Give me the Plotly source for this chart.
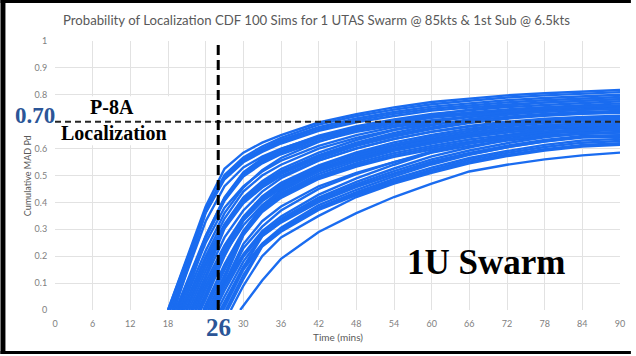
import plotly.graph_objects as go

# ---------------------------------------------------------------
# Data: cumulative MAD probability of detection for each simulation
# ---------------------------------------------------------------
sample_mins = [24, 27, 30, 33, 36, 42, 48, 54, 60, 66, 72, 78, 84, 90]

# time (mins) at which each simulation's CDF leaves zero
start_mins = [
    18.0, 18.0, 18.3, 18.6, 18.8, 19.0,
    19.2, 19.5, 19.6, 19.8, 20.0, 20.2, 20.3,
    20.5, 20.8, 21.0, 21.3, 21.6, 21.8,
    22.0, 22.3, 22.5, 22.8, 23.0, 23.2,
    23.6, 23.8, 24.0, 24.3, 24.6, 24.8,
    25.0, 25.1, 25.3, 25.5, 25.9, 26.3,
    26.5, 26.8, 27.2, 27.5, 28.0,
    29.5,
]

# cumulative Pd at each sample time (None = before the curve starts)
sim_pd = [
    [0.385, 0.525, 0.585, 0.622, 0.650, 0.697, 0.728, 0.753, 0.773, 0.786, 0.798, 0.806, 0.812, 0.818],
    [0.373, 0.502, 0.567, 0.608, 0.640, 0.689, 0.721, 0.745, 0.765, 0.778, 0.790, 0.798, 0.804, 0.810],
    [0.368, 0.496, 0.560, 0.600, 0.632, 0.680, 0.712, 0.736, 0.756, 0.768, 0.780, 0.788, 0.794, 0.800],
    [0.364, 0.491, 0.554, 0.594, 0.626, 0.673, 0.705, 0.729, 0.748, 0.760, 0.772, 0.780, 0.786, 0.792],
    [0.330, 0.460, 0.530, 0.570, 0.600, 0.645, 0.675, 0.700, 0.718, 0.730, 0.740, 0.748, 0.754, 0.758],
    [0.361, 0.486, 0.549, 0.588, 0.619, 0.666, 0.698, 0.721, 0.741, 0.753, 0.764, 0.772, 0.779, 0.784],
    [0.275, 0.419, 0.512, 0.563, 0.598, 0.648, 0.683, 0.708, 0.729, 0.742, 0.754, 0.762, 0.769, 0.776],
    [0.273, 0.415, 0.507, 0.557, 0.591, 0.641, 0.676, 0.700, 0.721, 0.734, 0.746, 0.754, 0.761, 0.768],
    [0.250, 0.380, 0.460, 0.515, 0.555, 0.610, 0.650, 0.680, 0.700, 0.717, 0.730, 0.740, 0.747, 0.752],
    [0.270, 0.410, 0.502, 0.551, 0.585, 0.635, 0.669, 0.693, 0.714, 0.727, 0.738, 0.746, 0.753, 0.760],
    [0.220, 0.360, 0.455, 0.520, 0.565, 0.625, 0.668, 0.700, 0.725, 0.745, 0.760, 0.771, 0.778, 0.784],
    [0.267, 0.406, 0.496, 0.545, 0.579, 0.628, 0.662, 0.686, 0.706, 0.719, 0.730, 0.738, 0.745, 0.752],
    [0.200, 0.340, 0.440, 0.500, 0.540, 0.600, 0.640, 0.670, 0.690, 0.705, 0.717, 0.726, 0.732, 0.736],
    [0.190, 0.319, 0.418, 0.479, 0.524, 0.585, 0.632, 0.669, 0.698, 0.720, 0.737, 0.749, 0.756, 0.760],
    [0.175, 0.314, 0.411, 0.471, 0.516, 0.576, 0.622, 0.658, 0.687, 0.709, 0.726, 0.737, 0.744, 0.748],
    [0.163, 0.311, 0.407, 0.466, 0.511, 0.570, 0.616, 0.651, 0.679, 0.702, 0.718, 0.729, 0.736, 0.740],
    [0.145, 0.308, 0.403, 0.462, 0.506, 0.564, 0.610, 0.645, 0.673, 0.695, 0.711, 0.722, 0.729, 0.733],
    [0.127, 0.303, 0.397, 0.455, 0.498, 0.556, 0.601, 0.635, 0.663, 0.684, 0.700, 0.711, 0.718, 0.722],
    [0.120, 0.270, 0.370, 0.440, 0.490, 0.555, 0.600, 0.636, 0.662, 0.682, 0.697, 0.707, 0.713, 0.717],
    [0.105, 0.240, 0.347, 0.422, 0.473, 0.538, 0.586, 0.623, 0.651, 0.674, 0.691, 0.703, 0.710, 0.716],
    [0.090, 0.227, 0.343, 0.418, 0.467, 0.532, 0.580, 0.616, 0.644, 0.666, 0.683, 0.695, 0.702, 0.708],
    [0.077, 0.224, 0.340, 0.413, 0.462, 0.526, 0.573, 0.609, 0.636, 0.659, 0.676, 0.687, 0.694, 0.700],
    [0.060, 0.221, 0.336, 0.408, 0.457, 0.520, 0.567, 0.602, 0.629, 0.651, 0.668, 0.680, 0.686, 0.692],
    [0.050, 0.210, 0.315, 0.390, 0.445, 0.520, 0.572, 0.612, 0.643, 0.667, 0.686, 0.700, 0.708, 0.713],
    [0.040, 0.200, 0.332, 0.404, 0.452, 0.515, 0.561, 0.596, 0.623, 0.645, 0.661, 0.673, 0.680, 0.685],
    [0.020, 0.170, 0.294, 0.385, 0.441, 0.515, 0.564, 0.602, 0.630, 0.655, 0.672, 0.686, 0.693, 0.700],
    [0.010, 0.160, 0.289, 0.378, 0.433, 0.506, 0.554, 0.592, 0.619, 0.643, 0.660, 0.674, 0.681, 0.688],
    [None, 0.149, 0.285, 0.373, 0.427, 0.498, 0.546, 0.583, 0.610, 0.634, 0.651, 0.664, 0.671, 0.678],
    [None, 0.130, 0.281, 0.369, 0.422, 0.492, 0.539, 0.576, 0.603, 0.626, 0.643, 0.657, 0.663, 0.670],
    [None, 0.115, 0.278, 0.364, 0.417, 0.487, 0.533, 0.569, 0.596, 0.619, 0.636, 0.649, 0.655, 0.662],
    [None, 0.100, 0.245, 0.330, 0.385, 0.460, 0.510, 0.550, 0.585, 0.610, 0.630, 0.645, 0.655, 0.660],
    [None, 0.100, 0.207, 0.293, 0.348, 0.429, 0.489, 0.540, 0.586, 0.620, 0.649, 0.671, 0.687, 0.690],
    [None, 0.090, 0.230, 0.310, 0.370, 0.450, 0.505, 0.550, 0.590, 0.620, 0.645, 0.662, 0.674, 0.680],
    [None, 0.090, 0.202, 0.286, 0.339, 0.418, 0.476, 0.526, 0.571, 0.604, 0.632, 0.653, 0.669, 0.672],
    [None, 0.073, 0.198, 0.281, 0.333, 0.411, 0.468, 0.516, 0.560, 0.593, 0.620, 0.642, 0.657, 0.660],
    [None, 0.050, 0.180, 0.276, 0.328, 0.404, 0.461, 0.508, 0.552, 0.584, 0.611, 0.632, 0.647, 0.650],
    [None, 0.030, 0.160, 0.274, 0.325, 0.401, 0.457, 0.504, 0.547, 0.579, 0.605, 0.626, 0.641, 0.644],
    [None, 0.020, 0.160, 0.247, 0.306, 0.390, 0.447, 0.497, 0.541, 0.577, 0.605, 0.627, 0.644, 0.650],
    [None, None, 0.150, 0.242, 0.299, 0.382, 0.438, 0.487, 0.529, 0.565, 0.591, 0.614, 0.630, 0.636],
    [None, None, 0.130, 0.239, 0.295, 0.377, 0.432, 0.480, 0.522, 0.558, 0.584, 0.606, 0.622, 0.628],
    [None, None, 0.115, 0.236, 0.291, 0.372, 0.427, 0.474, 0.516, 0.551, 0.577, 0.598, 0.614, 0.620],
    [None, None, 0.090, 0.200, 0.270, 0.350, 0.420, 0.470, 0.510, 0.545, 0.572, 0.593, 0.608, 0.614],
    [None, None, None, 0.110, 0.190, 0.290, 0.360, 0.420, 0.470, 0.515, 0.540, 0.560, 0.575, 0.585],
]

# reference markers
p8a_pd = 0.70
p8a_time = 26

# axis ticks (the 24-min and 0.7 labels sit under the marker call-outs)
x_tick_vals = list(range(0, 91, 6))
x_tick_text = ["0", "6", "12", "18", "", "30", "36", "42", "48", "54", "60", "66", "72", "78", "84", "90"]
y_tick_vals = [0, 0.1, 0.2, 0.3, 0.4, 0.5, 0.6, 0.7, 0.8, 0.9, 1]
y_tick_text = ["0", "0.1", "0.2", "0.3", "0.4", "0.5", "0.6", "", "0.8", "0.9", "1"]

# ---------------------------------------------------------------
# Styling / page geometry
# ---------------------------------------------------------------
W, H = 636, 356
ML, MR, MT, MB = 55, 11, 41, 46
PW, PH = W - ML - MR, H - MT - MB

SIM_BLUE = "#1a6cf0"
MARK_BLUE = "#2b5597"
GREY_TXT = "#595959"
TICK_TXT = "#808080"
GRID = "#e2e2e2"
SERIF = "Liberation Serif"
SANS = "Lato"


def px_x(px):
    return (px - ML) / PW


def px_y(py):
    return (H - MB - py) / PH


fig = go.Figure()

for s, row in zip(start_mins, sim_pd):
    xs = [s] + [t for t, v in zip(sample_mins, row) if v is not None]
    ys = [0.0] + [v for v in row if v is not None]
    fig.add_trace(go.Scatter(
        x=xs, y=ys, mode="lines",
        line=dict(color=SIM_BLUE, width=2.4),
        hoverinfo="skip", showlegend=False,
    ))

axis_common = dict(
    showgrid=True, gridcolor=GRID, gridwidth=1,
    zeroline=False, showline=False,
    ticks="outside", ticklen=5, tickcolor="rgba(0,0,0,0)",
    tickfont=dict(family=SANS, size=9, color=TICK_TXT),
    fixedrange=True,
)

fig.update_layout(
    width=W, height=H,
    margin=dict(l=ML, r=MR, t=MT, b=MB, pad=0),
    paper_bgcolor="white", plot_bgcolor="white",
    xaxis=dict(range=[0, 90], tickvals=x_tick_vals, ticktext=x_tick_text, **axis_common),
    yaxis=dict(range=[0, 1], tickvals=y_tick_vals, ticktext=y_tick_text, **axis_common),
    showlegend=False,
)

shapes = []
# white text panel behind the P-8A label
shapes.append(dict(type="rect", xref="x", yref="y", x0=0.3, x1=22, y0=0.612, y1=0.795,
                   fillcolor="white", line=dict(width=0), layer="above"))
# P-8A localization threshold and time
shapes.append(dict(type="line", xref="x", yref="y", x0=0, x1=90, y0=p8a_pd, y1=p8a_pd,
                   line=dict(color="#262626", width=2, dash="6px,4px"), layer="above"))
shapes.append(dict(type="line", xref="x", yref="y", x0=p8a_time, x1=p8a_time, y0=0, y1=1,
                   line=dict(color="black", width=3, dash="10px,5px"), layer="above"))
# slide frame (top, left, bottom)
shapes.append(dict(type="rect", xref="paper", yref="paper",
                   x0=px_x(0), x1=px_x(636), y0=px_y(3), y1=px_y(0),
                   fillcolor="black", line=dict(width=0), layer="above"))
shapes.append(dict(type="rect", xref="paper", yref="paper",
                   x0=px_x(0), x1=px_x(5), y0=px_y(354), y1=px_y(0),
                   fillcolor="black", line=dict(width=0), layer="above"))
shapes.append(dict(type="rect", xref="paper", yref="paper",
                   x0=px_x(0), x1=px_x(636), y0=px_y(354), y1=px_y(351),
                   fillcolor="black", line=dict(width=0), layer="above"))
fig.update_layout(shapes=shapes)

ann = []
ann.append(dict(text="Probability of Localization CDF 100 Sims for 1 UTAS Swarm @ 85kts & 1st Sub @ 6.5kts",
                xref="paper", yref="paper", x=px_x(319), y=px_y(20),
                xanchor="center", yanchor="middle", showarrow=False,
                font=dict(family=SANS, size=13.2, color=GREY_TXT)))
ann.append(dict(text="Time (mins)", xref="paper", yref="paper", x=px_x(340), y=px_y(337),
                xanchor="center", yanchor="middle", showarrow=False,
                font=dict(family=SANS, size=10, color=GREY_TXT)))
ann.append(dict(text="Cumulative MAD Pd", xref="paper", yref="paper", x=px_x(27), y=px_y(176),
                xanchor="center", yanchor="middle", showarrow=False, textangle=-90,
                font=dict(family=SANS, size=9, color=GREY_TXT)))
ann.append(dict(text=f"<b>{p8a_pd:.2f}</b>", xref="paper", yref="y", x=px_x(35), y=p8a_pd,
                xanchor="center", yanchor="middle", yshift=6, showarrow=False,
                font=dict(family=SERIF, size=23, color=MARK_BLUE)))
ann.append(dict(text="<b>P-8A</b>", xref="paper", yref="paper", x=px_x(113), y=px_y(107),
                xanchor="center", yanchor="middle", showarrow=False,
                font=dict(family=SERIF, size=20, color="black")))
ann.append(dict(text="<b>Localization</b>", xref="paper", yref="paper", x=px_x(115), y=px_y(133),
                xanchor="center", yanchor="middle", showarrow=False,
                font=dict(family=SERIF, size=20, color="black")))
ann.append(dict(text=f"<b>{p8a_time}</b>", xref="x", yref="paper", x=p8a_time, y=px_y(327),
                xanchor="center", yanchor="middle", showarrow=False,
                bgcolor="white",
                font=dict(family=SERIF, size=25, color=MARK_BLUE)))
ann.append(dict(text="<b>1U Swarm</b>", xref="paper", yref="paper", x=px_x(490), y=px_y(262),
                xanchor="center", yanchor="middle", showarrow=False,
                font=dict(family=SERIF, size=35, color="black")))
fig.update_layout(annotations=ann)

fig.write_html("out.html")
